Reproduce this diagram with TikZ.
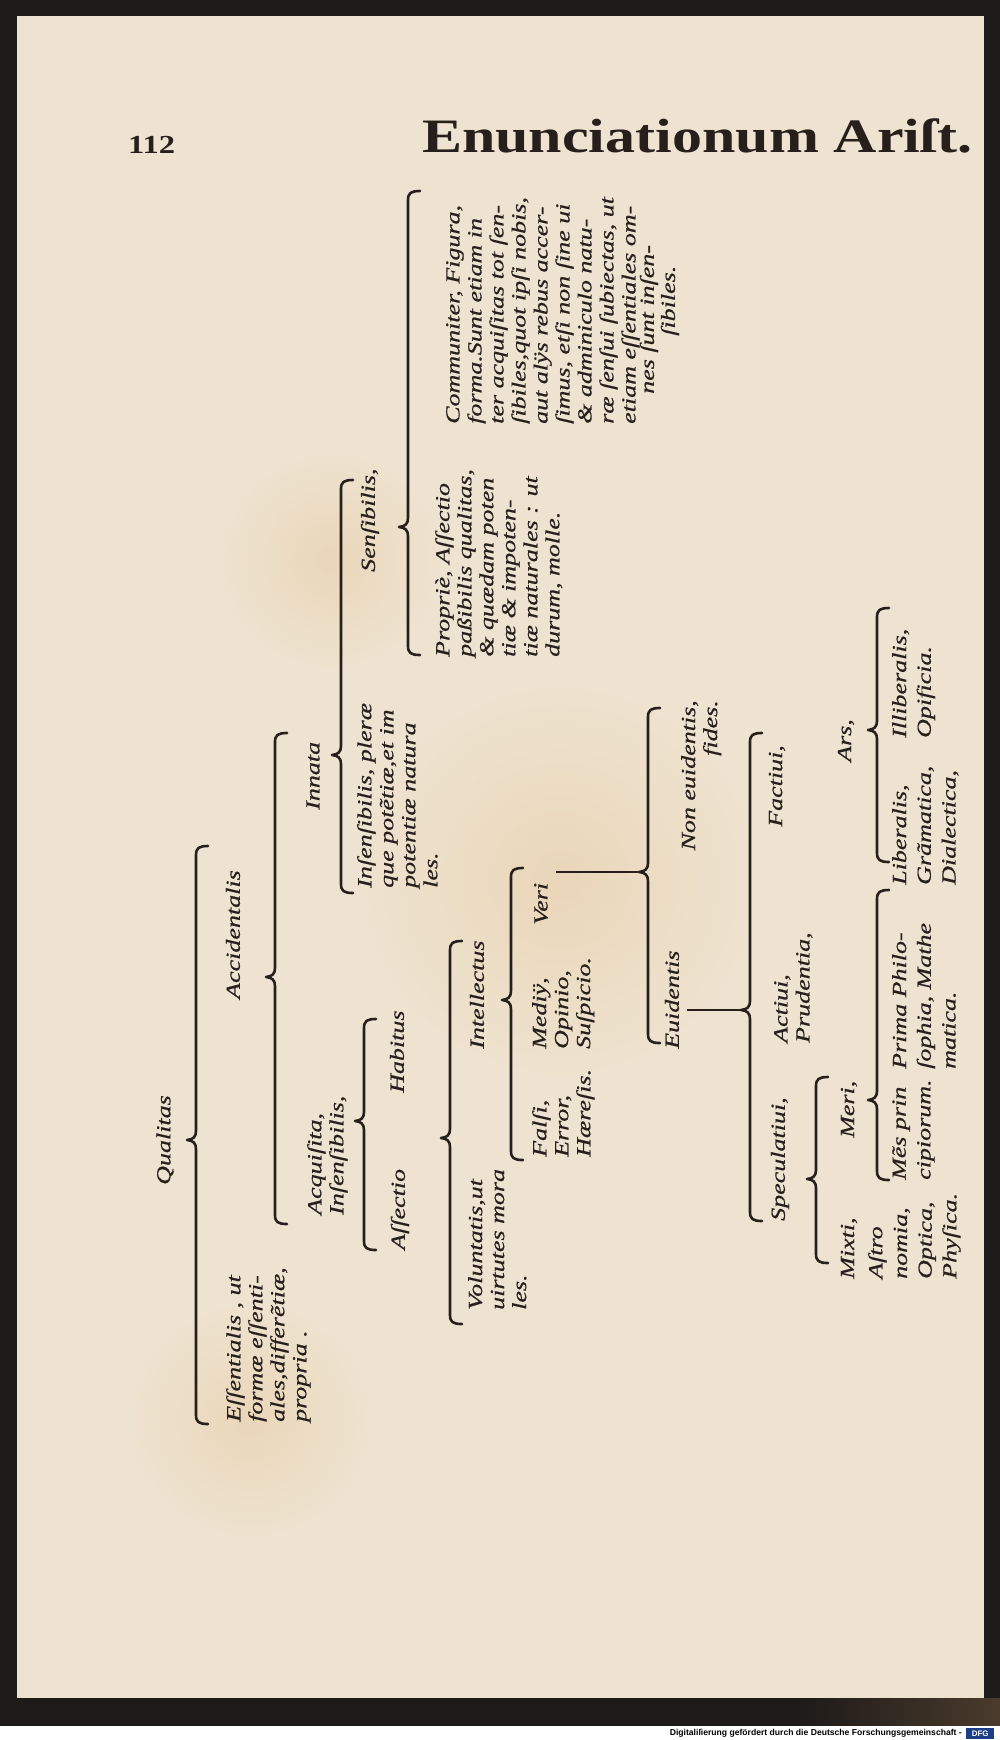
\documentclass[tikz,border=0pt]{standalone}
\usepackage{fontspec}
\setmainfont{Liberation Serif}
\newfontfamily\bk[FakeStretch=1.3,FakeBold=0.6]{Liberation Serif}
\newfontfamily\hdfont[FakeStretch=1.25]{Liberation Serif}
\newfontfamily\sansf{Liberation Sans}
\definecolor{paper}{HTML}{EEE3D0}
\definecolor{stain}{HTML}{EAD6B9}
\definecolor{ink}{HTML}{261F1B}
\definecolor{edge}{HTML}{1E1B19}
\definecolor{edgebrown}{HTML}{4A3B2C}
\definecolor{dfgblue}{HTML}{1B3F86}
% brace: name, x, top, bottom, tip
\newcommand\brc[5]{%
  \coordinate (#1) at (#2-9,#5);
  \draw[brcs] (#2+12,#3) .. controls (#2+3,#3) and (#2,#3+2) .. (#2,#3+9)
    -- (#2,#5-9) .. controls (#2,#5-3) and (#2-3,#5-0.5) .. (#1)
    .. controls (#2-3,#5+0.5) and (#2,#5+3) .. (#2,#5+9)
    -- (#2,#4-9) .. controls (#2,#4-2) and (#2+3,#4) .. (#2+12,#4);}
\begin{document}
\begin{tikzpicture}[x=1pt,y=-1pt,
  brcs/.style={draw=ink,line width=2.6pt,line cap=round,line join=round},
  tx/.style={rotate=90,inner sep=0pt,align=left,anchor=north west,text=ink,
     font=\bk\itshape\fontsize{20}{22}\selectfont},
  tw/.style={tx,anchor=west},
  tr/.style={tx,font=\bk\itshape\fontsize{20}{24.7}\selectfont},
  link/.style={draw=ink,line width=2.4pt}]
\useasboundingbox (0,0) rectangle (1000,1740);
% page and borders
\fill[edge] (0,0) rectangle (1000,1726);
\shade[left color=edge,right color=edgebrown] (800,1698) rectangle (1000,1726);
\fill[white] (0,1726) rectangle (1000,1740);
\fill[paper] (17,16) rectangle (984,1698);
\shade[inner color=stain,outer color=paper] (560,880) circle (200);
\shade[inner color=stain,outer color=paper] (250,1420) circle (120);
\shade[inner color=stain,outer color=paper] (330,560) circle (110);
% header
\node[anchor=base west,inner sep=0pt,text=ink,font=\hdfont\bfseries\fontsize{26}{26}\selectfont] (pg) at (128,153) {112};
\node[anchor=base west,inner sep=0pt,text=ink,font=\hdfont\bfseries\fontsize{48}{48}\selectfont] (title) at (422,152) {Enunciationum Ariſt.};
% level 0
\node[tx,anchor=center] (qual) at (165,1140) {Qualitas};
\brc{bQ}{196}{846}{1424}{1140}
% level 1
\node[tx] (ess) at (226,1422) {Eſſentialis , ut\\ formæ eſſenti-\\ ales,differẽtiæ,\\ propria .};
\node[tw] (acc) at (233,999) {Accidentalis};
\brc{bAc}{275}{733}{1224}{977}
% level 2
\node[tw] (inn) at (313,810) {Innata};
\node[tx] (acq) at (307,1215) {Acquiſita,\\ Inſenſibilis,};
\brc{bIn}{341}{480}{893}{755}
\brc{bAq}{364}{1019}{1250}{1121}
% level 3
\node[tw] (aff) at (400,1250) {Aſſectio};
\node[tw] (hab) at (397,1093) {Habitus};
\node[tx] (ins) at (357,888) {Inſenſibilis, pleræ\\ que potẽtiæ,et im\\ potentiæ natura\\ les.};
\node[tw] (sen) at (370,572) {Senſibilis,};
\brc{bSe}{408}{191}{655}{527}
% level 4 (sensibilis)
\node[tx] (prop) at (435,657) {Propriè, Aſſectio\\ paßibilis qualitas,\\ \& quædam poten\\ tiæ \& impoten-\\ tiæ naturales : ut\\ durum, molle.};
\node[tx] (com) at (446,424) {Communiter, Figura,\\ forma.Sunt etiam in\\ ter acquiſitas tot ſen-\\ ſibiles,quot ipſi nobis,\\ aut alÿs rebus accer-\\ ſimus, etſi non ſine ui\\ \& adminiculo natu-\\ ræ ſenſui ſubiectas, ut\\ etiam eſſentiales om-};
\node[tw] (com2) at (649,394) {nes ſunt inſen-};
\node[tw] (com3) at (670,336) {ſibiles.};
% habitus
\brc{bHa}{450}{941}{1324}{1138}
\node[tx] (vol) at (468,1310) {Voluntatis,ut\\ uirtutes mora\\ les.};
\node[tw] (intl) at (477,1049) {Intellectus};
\brc{bIt}{511}{868}{1160}{1000}
\node[tx] (fal) at (532,1157) {Falſi,\\ Error,\\ Hæreſis.};
\node[tx] (med) at (532,1049) {Mediÿ,\\ Opinio,\\ Suſpicio.};
\node[tw] (veri) at (541,925) {Veri};
\brc{bVe}{648}{708}{1043}{872}
\draw[link] ([xshift=8pt]veri.south |- bVe) -- (bVe);
\node[tw] (euid) at (672,1049) {Euidentis};
\node[tx,align=right,anchor=north east] (neuid) at (681,700) {Non euidentis,\\ fides.};
\brc{bEu}{750}{733}{1221}{1010}
\draw[link] ([xshift=8pt]euid.south |- bEu) -- (bEu);
\node[tw] (spec) at (780,1221) {Speculatiui,};
\node[tx] (act) at (774,1043) {Actiui,\\ Prudentia,};
\node[tw] (fact) at (777,827) {Factiui,};
\brc{bSp}{816}{1077}{1263}{1179}
\node[tw] (mix) at (849,1279) {Mixti,};
\node[tw] (meri) at (849,1138) {Meri,};
\brc{bMe}{877}{890}{1180}{1100}
\node[tr] (astro) at (868,1279) {Aſtro\\ nomia,\\ Optica,\\ Phyſica.};
\node[tr] (mes) at (892,1180) {Mẽs prin\\ cipiorum.};
\node[tr] (prima) at (892,1069) {Prima Philo-\\ ſophia, Mathe\\ matica.};
\node[tw] (ars) at (846,762) {Ars,};
\brc{bAr}{877}{608}{862}{730}
\node[tr] (lib) at (892,885) {Liberalis,\\ Grãmatica,\\ Dialectica,};
\node[tr] (illib) at (892,738) {Illiberalis,\\ Opificia.};
% footer
\node[anchor=east,inner sep=0pt,font=\sansf\bfseries\fontsize{8.6}{8.6}\selectfont] (dfgtxt) at (962,1733.5) {Digitaliſierung gefördert durch die Deutsche Forschungsgemeinschaft -};
\node[anchor=west,inner sep=1pt,fill=dfgblue,text=white,font=\sansf\bfseries\fontsize{8}{8}\selectfont,minimum width=28pt,minimum height=11pt] (dfg) at (966,1733.5) {DFG};
\end{tikzpicture}
\end{document}
